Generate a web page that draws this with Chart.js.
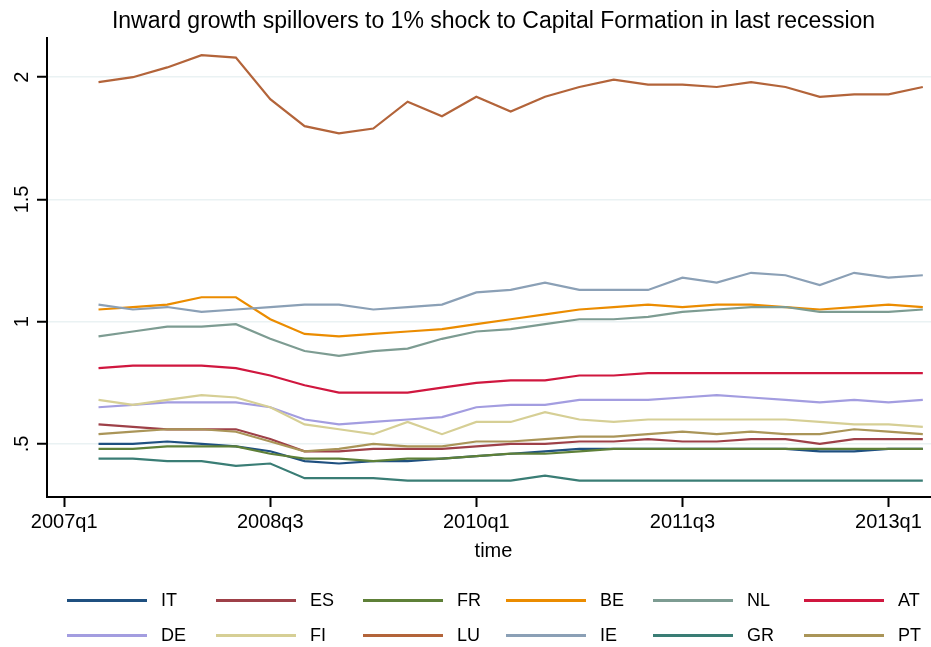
<!DOCTYPE html>
<html>
<head>
<meta charset="utf-8">
<script src="https://cdn.jsdelivr.net/npm/chart.js@4.4.1/dist/chart.umd.min.js"></script>
<style>
  html, body { margin: 0; padding: 0; background: #fff; overflow: hidden; }
  #wrap { position: relative; width: 931px; height: 647px; overflow: hidden; }
  #legend {
    position: absolute; left: 67px; top: 590px;
    display: grid;
    grid-template-columns: 149px 147px 143px 147px 151px 127px;
    grid-auto-rows: 35.4px;
    font: 18px "Liberation Sans", Arial, sans-serif; color: #000;
  }
  .item { display: flex; align-items: center; height: 20px; }
  .swatch { width: 80px; height: 3px; margin-right: 14px; }
</style>
</head>
<body>
<div id="wrap">
  <canvas id="chart" width="986" height="647"></canvas>
  <div id="legend"></div>
</div>
<script>
// quarters on the x axis (data runs 2007q2 .. 2013q2)
const quarters = ['2007q2', '2007q3', '2007q4', '2008q1', '2008q2', '2008q3', '2008q4',
  '2009q1', '2009q2', '2009q3', '2009q4', '2010q1', '2010q2', '2010q3', '2010q4',
  '2011q1', '2011q2', '2011q3', '2011q4', '2012q1', '2012q2', '2012q3', '2012q4',
  '2013q1', '2013q2'];
const xTickLabels = ['2007q1', '2008q3', '2010q1', '2011q3', '2013q1'];
const yTicks = [0.5, 1, 1.5, 2];
const yTickLabels = ['.5', '1', '1.5', '2'];

const countries = ['IT', 'ES', 'FR', 'BE', 'NL', 'AT', 'DE', 'FI', 'LU', 'IE', 'GR', 'PT'];
const colors = ['#1f5080', '#9e4048', '#5e8038', '#eb8c00', '#7d9c92', '#d0173f',
  '#a39de0', '#d6cf95', '#b3643a', '#8ba0b6', '#3a7d75', '#aa9558'];

const IT = [0.50, 0.50, 0.51, 0.50, 0.49, 0.47, 0.43, 0.42, 0.43, 0.43, 0.44, 0.45, 0.46,
  0.47, 0.48, 0.48, 0.48, 0.48, 0.48, 0.48, 0.48, 0.47, 0.47, 0.48, 0.48];
const ES = [0.58, 0.57, 0.56, 0.56, 0.56, 0.52, 0.47, 0.47, 0.48, 0.48, 0.48, 0.49, 0.50,
  0.50, 0.51, 0.51, 0.52, 0.51, 0.51, 0.52, 0.52, 0.50, 0.52, 0.52, 0.52];
const FR = [0.48, 0.48, 0.49, 0.49, 0.49, 0.46, 0.44, 0.44, 0.43, 0.44, 0.44, 0.45, 0.46,
  0.46, 0.47, 0.48, 0.48, 0.48, 0.48, 0.48, 0.48, 0.48, 0.48, 0.48, 0.48];
const BE = [1.05, 1.06, 1.07, 1.10, 1.10, 1.01, 0.95, 0.94, 0.95, 0.96, 0.97, 0.99, 1.01,
  1.03, 1.05, 1.06, 1.07, 1.06, 1.07, 1.07, 1.06, 1.05, 1.06, 1.07, 1.06];
const NL = [0.94, 0.96, 0.98, 0.98, 0.99, 0.93, 0.88, 0.86, 0.88, 0.89, 0.93, 0.96, 0.97,
  0.99, 1.01, 1.01, 1.02, 1.04, 1.05, 1.06, 1.06, 1.04, 1.04, 1.04, 1.05];
const AT = [0.81, 0.82, 0.82, 0.82, 0.81, 0.78, 0.74, 0.71, 0.71, 0.71, 0.73, 0.75, 0.76,
  0.76, 0.78, 0.78, 0.79, 0.79, 0.79, 0.79, 0.79, 0.79, 0.79, 0.79, 0.79];
const DE = [0.65, 0.66, 0.67, 0.67, 0.67, 0.65, 0.60, 0.58, 0.59, 0.60, 0.61, 0.65, 0.66,
  0.66, 0.68, 0.68, 0.68, 0.69, 0.70, 0.69, 0.68, 0.67, 0.68, 0.67, 0.68];
const FI = [0.68, 0.66, 0.68, 0.70, 0.69, 0.65, 0.58, 0.56, 0.54, 0.59, 0.54, 0.59, 0.59,
  0.63, 0.60, 0.59, 0.60, 0.60, 0.60, 0.60, 0.60, 0.59, 0.58, 0.58, 0.57];
const LU = [1.98, 2.00, 2.04, 2.09, 2.08, 1.91, 1.80, 1.77, 1.79, 1.90, 1.84, 1.92, 1.86,
  1.92, 1.96, 1.99, 1.97, 1.97, 1.96, 1.98, 1.96, 1.92, 1.93, 1.93, 1.96];
const IE = [1.07, 1.05, 1.06, 1.04, 1.05, 1.06, 1.07, 1.07, 1.05, 1.06, 1.07, 1.12, 1.13,
  1.16, 1.13, 1.13, 1.13, 1.18, 1.16, 1.20, 1.19, 1.15, 1.20, 1.18, 1.19];
const GR = [0.44, 0.44, 0.43, 0.43, 0.41, 0.42, 0.36, 0.36, 0.36, 0.35, 0.35, 0.35, 0.35,
  0.37, 0.35, 0.35, 0.35, 0.35, 0.35, 0.35, 0.35, 0.35, 0.35, 0.35, 0.35];
const PT = [0.54, 0.55, 0.56, 0.56, 0.55, 0.51, 0.47, 0.48, 0.50, 0.49, 0.49, 0.51, 0.51,
  0.52, 0.53, 0.53, 0.54, 0.55, 0.54, 0.55, 0.54, 0.54, 0.56, 0.55, 0.54];

const seriesValues = [IT, ES, FR, BE, NL, AT, DE, FI, LU, IE, GR, PT];

// quarter label -> number of quarters since 2007q1
function qIndex(label) {
  const [y, q] = label.split('q');
  return (Number(y) - 2007) * 4 + Number(q) - 1;
}
const xTicks = xTickLabels.map(qIndex);

const font = "'Liberation Sans', Arial, Helvetica, sans-serif";

const datasets = countries.map((name, i) => ({
  label: name,
  data: seriesValues[i].map((v, j) => ({ x: qIndex(quarters[j]), y: v })),
  borderColor: colors[i],
  backgroundColor: colors[i],
  borderWidth: 2.2,
  pointRadius: 0,
  tension: 0,
  order: countries.length - i   // later series drawn on top, like Stata
}));

new Chart(document.getElementById('chart'), {
  type: 'line',
  data: { datasets: datasets },
  options: {
    responsive: false,
    animation: false,
    devicePixelRatio: 1,
    layout: { padding: { left: 0, right: 46, top: 0, bottom: 80 } },
    plugins: {
      legend: { display: false },
      tooltip: { enabled: false },
      title: {
        display: true,
        fullSize: false,   // centre over the plot region
        text: 'Inward growth spillovers to 1% shock to Capital Formation in last recession',
        color: '#000',
        font: { family: font, size: 23, weight: 'normal' },
        padding: { top: 8, bottom: 2 }
      }
    },
    scales: {
      x: {
        type: 'linear',
        min: -0.5,
        max: 25.5,
        afterBuildTicks: s => { s.ticks = xTicks.map(v => ({ value: v })); },
        afterFit: s => { s.height = 70; },
        ticks: {
          autoSkip: false,
          maxRotation: 0,
          padding: 3,
          color: '#000',
          font: { family: font, size: 20 },
          callback: v => xTickLabels[xTicks.indexOf(v)]
        },
        grid: { drawOnChartArea: false, tickLength: 10, tickColor: '#000', tickWidth: 2 },
        border: { color: '#000', width: 2 },
        title: {
          display: true, text: 'time', color: '#000',
          font: { family: font, size: 20 },
          padding: { top: 0, bottom: 4 }
        }
      },
      y: {
        type: 'linear',
        min: 0.283,
        max: 2.162,
        afterBuildTicks: s => { s.ticks = yTicks.map(v => ({ value: v })); },
        afterFit: s => { s.width = 47; },
        ticks: {
          minRotation: 90,
          maxRotation: 90,
          crossAlign: 'center',
          padding: 1,
          color: '#000',
          font: { family: font, size: 20 },
          callback: v => yTickLabels[yTicks.indexOf(v)]
        },
        grid: { color: '#eaf2f3', lineWidth: 1.5, tickLength: 10, tickColor: '#000', tickWidth: 2 },
        border: { color: '#000', width: 2 }
      }
    }
  }
});

// legend below the plot, two rows of six
const legend = document.getElementById('legend');
countries.forEach((name, i) => {
  const item = document.createElement('div');
  item.className = 'item';
  const sw = document.createElement('span');
  sw.className = 'swatch';
  sw.style.background = colors[i];
  const txt = document.createElement('span');
  txt.textContent = name;
  item.appendChild(sw);
  item.appendChild(txt);
  legend.appendChild(item);
});
</script>
</body>
</html>
